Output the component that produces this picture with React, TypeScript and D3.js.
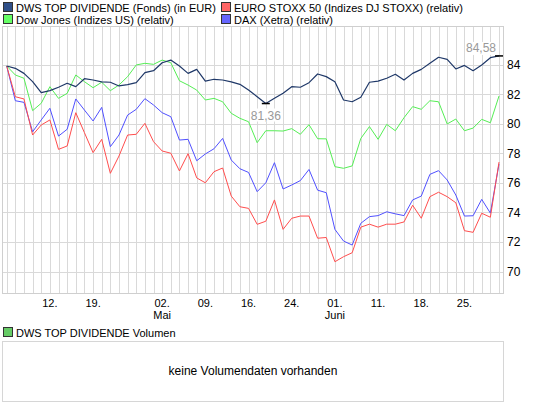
import React from "react";
import * as d3 from "d3";

// Handelstage, Index 0..57
const dws = [
  83.9, 83.74, 83.4, 82.84, 82.1, 82.23, 82.46, 82.73, 82.5, 83.04,
  82.95, 82.82, 82.8, 82.55, 82.64, 82.77, 83.45, 83.58, 84.12, 84.3,
  83.9, 83.4, 83.67, 82.88, 83.0, 82.95, 82.82, 82.66, 82.27, 81.82,
  81.36, 81.71, 82.05, 82.5, 82.46, 82.77, 83.36, 83.18, 82.84, 81.6,
  81.48, 81.78, 82.8, 82.88, 83.07, 83.34, 82.95, 83.4, 83.67, 84.08,
  84.49, 84.35, 83.7, 83.94, 83.58, 83.97, 84.46, 84.58,
];
const eurostoxx = [
  83.9, 81.82, 81.67, 79.23, 79.91, 80.25, 78.26, 78.49, 80.74, 79.39,
  78.04, 78.94, 76.64, 77.81, 79.23, 79.28, 80.02, 78.78, 78.15, 78.0,
  76.8, 77.97, 76.33, 76.0, 76.75, 77.0, 75.1, 74.38, 74.27, 73.19,
  73.4, 74.84, 72.85, 73.6, 73.75, 73.75, 72.25, 72.3, 70.66, 71.0,
  71.27, 73.0, 73.2, 73.0, 73.2, 73.2, 73.35, 74.48, 73.6, 75.06,
  75.36, 75.06, 74.65, 72.76, 72.65, 73.94, 73.67, 77.4,
];
const dowJones = [
  83.9, 83.29, 83.07, 80.88, 81.38, 82.5, 81.71, 82.05, 83.29, 82.84,
  82.43, 82.8, 82.23, 82.61, 83.18, 83.97, 84.08, 84.01, 84.3, 84.12,
  82.9, 82.61, 82.27, 81.6, 81.71, 81.48, 80.7, 80.36, 80.13, 78.71,
  79.52, 79.52, 79.5, 79.66, 79.28, 79.93, 78.98, 78.97, 77.09, 76.98,
  77.14, 79.0, 79.8, 78.94, 79.95, 79.52, 80.4, 81.15, 80.97, 81.55,
  81.48, 79.98, 80.31, 79.52, 79.7, 80.29, 80.06, 81.87,
];
const dax = [
  83.9, 81.55, 81.44, 79.45, 80.25, 81.04, 79.16, 79.62, 81.67, 80.92,
  80.18, 81.1, 78.44, 79.23, 80.58, 80.97, 81.69, 81.26, 80.74, 80.47,
  78.89, 78.94, 77.49, 77.95, 78.3, 79.0, 77.54, 76.95, 76.7, 75.4,
  76.0, 77.36, 75.58, 75.85, 76.15, 76.9, 75.5, 75.33, 72.85, 72.06,
  71.79, 73.26, 73.71, 73.78, 74.04, 73.9, 73.78, 74.84, 75.1, 76.57,
  76.82, 76.19, 75.17, 73.75, 73.77, 74.88, 73.95, 77.26,
];

const legendNames = [
  "DWS TOP DIVIDENDE (Fonds) (in EUR)",
  "EURO STOXX 50 (Indizes DJ STOXX) (relativ)",
  "Dow Jones (Indizes US) (relativ)",
  "DAX (Xetra) (relativ)",
];
const legendFills = ["#2f4f88", "#ff6666", "#66ff66", "#6666ff"];
const lineColors = ["#1f3868", "#ff4d4d", "#55ee55", "#5050ff"];

const yTicks = [70, 72, 74, 76, 78, 80, 82, 84];
const xTickIdx = [5, 10, 18, 23, 28, 33, 38, 43, 48, 53];
const xTickLabels = ["12.", "19.", "02.", "09.", "16.", "24.", "01.", "11.", "18.", "25."];
const monthIdx = [18, 38];
const monthLabels = ["Mai", "Juni"];

const FONT = "'Liberation Sans', Arial, sans-serif";

export default function App() {
  const W = 545;
  const H = 410;
  const plot = { left: 2.5, right: 503.5, top: 26.5, bottom: 293.5 };

  const x = d3.scaleLinear().domain([0, dws.length - 1]).range([6.7, 499]);
  const y = d3.scaleLinear().domain([70, 84]).range([271.5, 64.5]);

  const line = d3
    .line<number>()
    .x((_, i) => x(i))
    .y((d) => y(d));

  // Zeichenreihenfolge: DAX, Dow, EURO STOXX, DWS oben
  const series = [
    { data: dax, color: lineColors[3] },
    { data: dowJones, color: lineColors[2] },
    { data: eurostoxx, color: lineColors[1] },
    { data: dws, color: lineColors[0] },
  ];

  const iMin = d3.minIndex(dws);
  const iMax = d3.maxIndex(dws);
  const fmt = (v: number) => d3.format(".2f")(v).replace(".", ",");

  const crisp = (v: number) => Math.round(v) + 0.5;

  return (
    <div style={{ position: "absolute", left: 0, top: 0 }}>
      <svg width={W} height={H} style={{ display: "block", background: "#fff" }} fontFamily={FONT}>
        {/* Legende */}
        {legendNames.map((name, i) => {
          const col = i % 2;
          const row = Math.floor(i / 2);
          const lx = col === 0 ? 3 : 221;
          const ly = 2.5 + row * 12;
          return (
            <g key={name}>
              <rect x={lx + 0.5} y={ly} width={9} height={9} fill={legendFills[i]} stroke="#333" strokeWidth={1} />
              <text x={lx + 13} y={ly + 9} fontSize={11} fill="#000">
                {name}
              </text>
            </g>
          );
        })}

        {/* Gitter */}
        <g stroke="#d9d9d9" strokeWidth={1}>
          {dws.map((_, i) => (
            <line key={"v" + i} x1={crisp(x(i))} x2={crisp(x(i))} y1={plot.top} y2={plot.bottom} />
          ))}
          {yTicks.map((t) => (
            <line key={"h" + t} x1={plot.left} x2={plot.right} y1={crisp(y(t))} y2={crisp(y(t))} />
          ))}
        </g>
        <rect
          x={plot.left}
          y={plot.top}
          width={plot.right - plot.left}
          height={plot.bottom - plot.top}
          fill="none"
          stroke="#cfcfcf"
        />

        {/* Linien */}
        {series.map((s, k) => (
          <path
            key={k}
            d={line(s.data) ?? ""}
            fill="none"
            stroke={s.color}
            strokeWidth={k === 3 ? 1.2 : 1}
            strokeLinejoin="round"
          />
        ))}

        {/* Min / Max */}
        <line x1={x(iMin) - 4} x2={x(iMin) + 4} y1={y(dws[iMin])} y2={y(dws[iMin])} stroke="#000" strokeWidth={1.5} />
        <line x1={x(iMax) - 4} x2={x(iMax) + 4} y1={y(dws[iMax])} y2={y(dws[iMax])} stroke="#000" strokeWidth={1.5} />
        <rect x={x(iMin) - 15} y={y(dws[iMin]) + 5} width={30} height={13} fill="#fff" />
        <text x={x(iMin)} y={y(dws[iMin]) + 16} fontSize={12} fill="#999" textAnchor="middle">
          {fmt(dws[iMin])}
        </text>
        <rect x={x(iMax) - 31} y={y(dws[iMax]) - 14} width={29} height={13} fill="#fff" />
        <text x={x(iMax) - 3} y={y(dws[iMax]) - 4} fontSize={12} fill="#999" textAnchor="end">
          {fmt(dws[iMax])}
        </text>

        {/* Y-Achse */}
        {yTicks.map((t) => (
          <text key={"yl" + t} x={507} y={y(t) + 4.5} fontSize={12} fill="#000">
            {t}
          </text>
        ))}

        {/* X-Achse */}
        {xTickIdx.map((idx, k) => (
          <text key={"xl" + k} x={x(idx)} y={307} fontSize={11} fill="#000" textAnchor="middle">
            {xTickLabels[k]}
          </text>
        ))}
        {monthIdx.map((idx, k) => (
          <text key={"m" + k} x={x(idx)} y={319} fontSize={11} fill="#000" textAnchor="middle">
            {monthLabels[k]}
          </text>
        ))}

        {/* Volumen */}
        <rect x={3.5} y={327.5} width={9} height={9} fill="#66cc66" stroke="#333" />
        <text x={16} y={336.5} fontSize={11} fill="#000">
          DWS TOP DIVIDENDE Volumen
        </text>
        <rect x={plot.left} y={341.5} width={plot.right - plot.left} height={60} fill="#fff" stroke="#d6d6d6" />
        <text x={(plot.left + plot.right) / 2} y={375} fontSize={12} fill="#000" textAnchor="middle">
          keine Volumendaten vorhanden
        </text>
      </svg>
    </div>
  );
}
